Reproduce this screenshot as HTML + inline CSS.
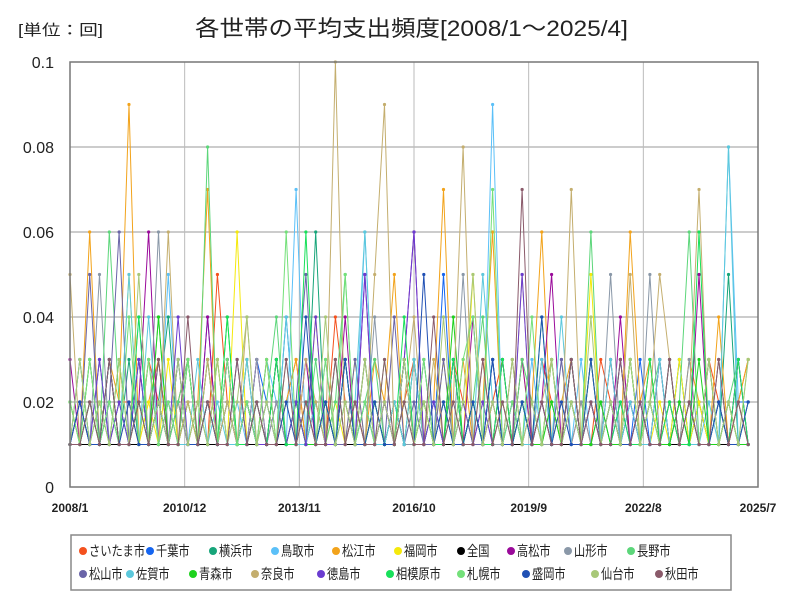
<!DOCTYPE html>
<html><head><meta charset="utf-8">
<style>
body{margin:0;background:#fff;font-family:"Liberation Sans","Noto Sans CJK JP",sans-serif;}
#wrap{position:relative;width:800px;height:600px;overflow:hidden;background:#fff}
</style></head>
<body>
<div id="wrap">
<svg id="chart" width="800" height="600"></svg>
</div>
<script>
// values in units of 0.01 回, one point every 3 months from 2008/1
const startLabel = "2008/1";
const xTickLabels = ["2008/1","2010/12","2013/11","2016/10","2019/9","2022/8","2025/7"];
const yTickLabels = ["0","0.02","0.04","0.06","0.08","0.1"];
const seriesNames = ["さいたま市","千葉市","横浜市","鳥取市","松江市","福岡市","全国","高松市","山形市","長野市","松山市","佐賀市","青森市","奈良市","徳島市","相模原市","札幌市","盛岡市","仙台市","秋田市"];
const seriesColors = ["#f4511e","#1565f0","#17a57a","#5bc0f8","#f2a31b","#f5e90c","#000000","#9a0a9a","#8a98a8","#5cd67a","#6a64a8","#5cc8dc","#1ed21e","#c4ae6e","#6a3cd0","#18e05a","#74e07a","#2050b4","#a8c878","#8a5a6a"];
const v0 = [1,2,1,3,1,2,2,1,3,2,1,2,3,1,1,5,2,1,3,1,2,1,2,3,1,2,1,4,2,1,3,1,2,1,2,3,1,2,1,3,2,1,1,2,3,1,2,1,3,2,1,1,2,1,3,2,1,2,1,3,1,2,1,2,1,3,2,1,2,3];
const v1 = [1,1,3,1,2,1,1,2,1,3,1,2,1,1,4,1,2,1,1,3,2,1,4,1,1,2,1,1,3,1,2,1,1,2,1,3,1,1,5,1,2,1,1,3,1,2,1,1,2,1,1,3,1,2,1,1,2,1,3,1,1,2,1,1,2,1,3,1,2,2];
const v2 = [1,3,1,1,2,1,3,1,1,2,4,1,1,2,1,3,1,1,2,1,1,3,1,2,1,6,1,1,2,1,3,1,1,2,1,1,3,1,2,1,1,2,1,3,1,1,2,1,1,3,1,2,1,1,2,1,3,1,1,2,1,1,3,1,2,1,1,5,1,2];
const v3 = [2,1,1,3,1,2,1,4,1,1,5,1,2,1,1,3,1,2,1,1,3,2,1,7,1,2,1,1,3,1,6,1,2,1,3,1,1,2,1,3,1,2,1,9,1,2,1,3,1,1,2,1,3,1,1,2,1,3,1,2,1,1,3,1,2,1,1,8,2,1];
const v4 = [2,1,6,1,3,2,9,1,2,3,1,2,1,2,7,1,3,1,2,1,3,1,2,3,1,2,1,3,1,2,1,3,2,5,1,3,1,2,7,1,3,1,2,6,1,3,1,2,6,1,2,3,1,2,1,3,1,6,2,3,1,2,1,3,2,1,4,1,2,3];
const v5 = [2,1,3,1,2,1,5,1,2,1,3,1,2,1,1,3,1,6,1,2,1,3,1,2,1,4,1,2,1,3,1,2,1,1,3,1,2,1,3,1,1,5,1,2,1,1,3,1,2,1,1,3,1,5,1,2,1,3,1,1,2,1,3,1,2,1,1,2,1,2];
const v6 = [1,1,1,1,1,1,1,1,1,1,1,1,1,1,1,1,1,1,1,1,1,1,1,1,1,1,1,1,1,1,1,1,1,2,1,1,1,1,1,1,1,2,1,1,1,1,1,1,1,1,1,1,1,1,1,1,1,1,1,1,1,1,1,1,1,1,1,1,1,1];
const v7 = [3,1,2,1,3,1,1,2,6,1,2,1,3,1,4,1,2,1,1,3,1,2,1,1,3,1,2,1,4,1,5,1,2,1,3,6,1,2,1,3,1,4,1,2,1,1,3,1,2,5,1,2,1,3,1,1,4,1,2,1,3,1,2,1,5,1,2,1,3,1];
const v8 = [1,2,1,5,1,2,1,3,1,6,1,2,1,1,3,1,2,1,1,3,1,2,1,1,2,1,3,1,1,2,1,4,1,2,1,1,3,1,2,1,5,1,2,1,1,3,1,2,1,1,3,1,2,1,1,5,1,2,1,5,1,2,1,3,1,1,2,1,1,2];
const v9 = [2,1,3,1,6,2,1,3,1,4,1,2,3,1,8,1,2,1,3,1,2,4,1,2,1,3,1,2,5,1,2,3,1,2,1,3,1,2,1,3,1,2,4,1,2,1,3,2,1,2,1,3,1,6,1,2,1,3,1,2,3,1,2,6,1,3,1,2,3,1];
const v10 = [1,1,5,1,2,6,1,3,1,2,1,3,1,1,2,1,3,1,2,1,1,3,1,2,5,1,2,1,1,3,1,2,1,4,1,2,1,1,3,1,2,1,1,3,1,2,1,1,2,1,3,1,1,2,1,3,1,2,1,1,3,1,2,1,1,3,1,2,1,1];
const v11 = [1,3,1,1,2,1,5,1,4,1,2,1,1,3,1,2,1,1,3,1,2,1,4,1,1,2,1,3,1,2,6,1,1,2,1,3,1,2,1,3,1,1,5,2,1,2,1,1,3,1,4,1,1,2,1,3,1,2,1,1,3,1,2,1,1,2,1,8,1,2];
const v12 = [1,2,1,2,1,3,1,2,1,4,1,1,2,1,3,1,4,1,2,1,1,3,1,2,1,1,2,1,3,1,1,2,1,1,3,1,2,1,1,4,1,2,1,1,3,1,2,1,1,2,1,3,1,1,2,1,1,3,1,2,1,1,2,1,3,1,1,2,1,1];
const v13 = [5,1,2,1,3,1,2,1,3,1,6,1,2,1,3,1,2,1,4,1,3,1,2,1,3,2,1,10,1,2,1,5,9,1,2,4,1,3,1,2,8,1,3,1,2,1,5,1,2,3,1,7,1,3,1,2,1,5,1,2,5,3,1,2,7,1,3,1,2,1];
const v14 = [1,2,1,3,1,2,1,3,1,2,1,4,1,1,2,1,3,1,2,1,1,3,1,2,1,4,1,1,3,1,5,1,2,1,3,6,1,2,1,3,1,1,2,1,3,1,5,1,2,1,1,3,1,2,1,1,3,1,2,1,1,3,1,2,1,1,2,1,3,1];
const v15 = [1,1,2,1,3,1,1,4,1,2,1,1,3,1,2,1,4,1,1,2,1,3,1,1,6,1,2,1,3,1,1,2,1,1,4,1,2,1,1,3,1,2,1,1,3,1,2,1,4,1,1,2,1,3,1,1,2,1,1,3,1,2,1,1,6,1,2,1,3,1];
const v16 = [2,1,3,1,2,1,4,1,3,1,2,1,3,1,2,1,3,1,2,1,3,1,6,1,2,1,3,1,5,1,2,1,3,1,2,1,3,1,2,1,3,4,1,7,1,2,1,4,1,3,1,2,1,3,1,2,1,3,1,2,1,3,1,2,1,3,1,2,1,3];
const v17 = [1,2,1,1,3,1,2,1,1,2,1,3,1,1,2,1,1,3,1,2,1,1,2,1,4,1,2,1,3,1,1,2,1,1,3,1,5,1,2,1,1,2,1,3,1,1,2,1,4,1,2,1,1,3,1,2,1,1,2,1,1,3,1,2,1,1,2,1,1,2];
const v18 = [1,3,1,2,1,3,1,5,1,2,1,3,1,2,1,3,1,2,4,1,2,1,3,1,2,1,4,1,2,1,3,1,2,1,3,1,2,1,4,1,2,5,1,2,1,3,1,2,1,3,1,2,1,4,1,2,1,3,1,2,1,3,1,2,1,3,1,2,1,3];
const v19 = [1,1,2,1,3,1,1,2,1,3,1,1,4,1,2,1,1,3,1,2,1,1,3,1,2,1,1,3,1,2,1,1,3,1,2,1,1,4,1,2,1,1,3,1,2,1,7,1,2,1,1,3,1,2,1,1,3,1,2,1,1,3,1,2,1,1,3,1,2,1];
const seriesValues = [v0,v1,v2,v3,v4,v5,v6,v7,v8,v9,v10,v11,v12,v13,v14,v15,v16,v17,v18,v19];
const stepMonths = 3;

const NS="http://www.w3.org/2000/svg";
const svg=document.getElementById('chart');
const L=70,R=758,T=62,B=487,totalMonths=210,yMax=0.1;
function xScale(m){return L+(R-L)*m/totalMonths;}
function yScale(v){return B-(B-T)*v/yMax;}
function mk(tag,attrs,parent){const e=document.createElementNS(NS,tag);for(const k in attrs)e.setAttribute(k,attrs[k]);(parent||svg).appendChild(e);return e;}

// title
let t=mk('text',{x:18,y:35,'font-size':15,fill:'#222',textLength:85,lengthAdjust:'spacingAndGlyphs'});t.textContent='[単位：回]';


t=mk('text',{x:195,y:36,'font-size':22,fill:'#222',textLength:433,lengthAdjust:'spacingAndGlyphs'});t.textContent='各世帯の平均支出頻度[2008/1～2025/4]';



// grid
const grid=mk('g',{});


yTickLabels.forEach((lab,i)=>{const y=yScale(i*0.02);
 mk('line',{x1:L,x2:R,y1:y,y2:y,stroke:'#999','stroke-width':1},grid);
 const tx=mk('text',{x:L-16,y:y+6,'font-size':16,'text-anchor':'end',fill:'#222'});tx.textContent=lab;
 
 
});
xTickLabels.forEach((lab,i)=>{const x=xScale(i*35);
 mk('line',{x1:x,x2:x,y1:T,y2:B,stroke:'#bbb','stroke-width':1},grid);
 const tx=mk('text',{x:x,y:512,'font-size':12,'text-anchor':'middle',fill:'#222','font-weight':'bold'});tx.textContent=lab;
 
 
});

// series
seriesValues.forEach((vals,si)=>{
 const g=mk('g',{});
 
 
 const pts=vals.map((v,i)=>xScale(i*stepMonths).toFixed(1)+','+yScale(v*0.01).toFixed(1)).join(' ');
 const pl=mk('polyline',{points:pts,fill:'none',stroke:seriesColors[si],'stroke-width':1},g);
 
 
 vals.forEach((v,i)=>{const c=mk('circle',{cx:xScale(i*stepMonths),cy:yScale(v*0.01),r:1.6,fill:seriesColors[si]},g);
  
  });
});
const frame=mk('rect',{x:L,y:T,width:R-L,height:B-T,fill:'none',stroke:'#777','stroke-width':1.5});



// legend
const lg=mk('g',{});


mk('rect',{x:71,y:535,width:660,height:55,fill:'#fff',stroke:'#888','stroke-width':1.5},lg);
const row1=[79,146,209,271,332,394,457,507,564,627];
const row2=[79,126,189,251,317,386,457,522,591,655];
seriesNames.forEach((n,i)=>{
 const row=i<10?0:1;const x=(row?row2:row1)[i%10];const y=row?579:556;
 const e=mk('g',{},lg);
 
 
 mk('circle',{cx:x+4,cy:y-5,r:4,fill:seriesColors[i]},e);
 const tx=mk('text',{x:x+10,y:y,'font-size':14,fill:'#222',textLength:n.length*11.2,lengthAdjust:'spacingAndGlyphs'},e);tx.textContent=n;
});
</script>
</body></html>
